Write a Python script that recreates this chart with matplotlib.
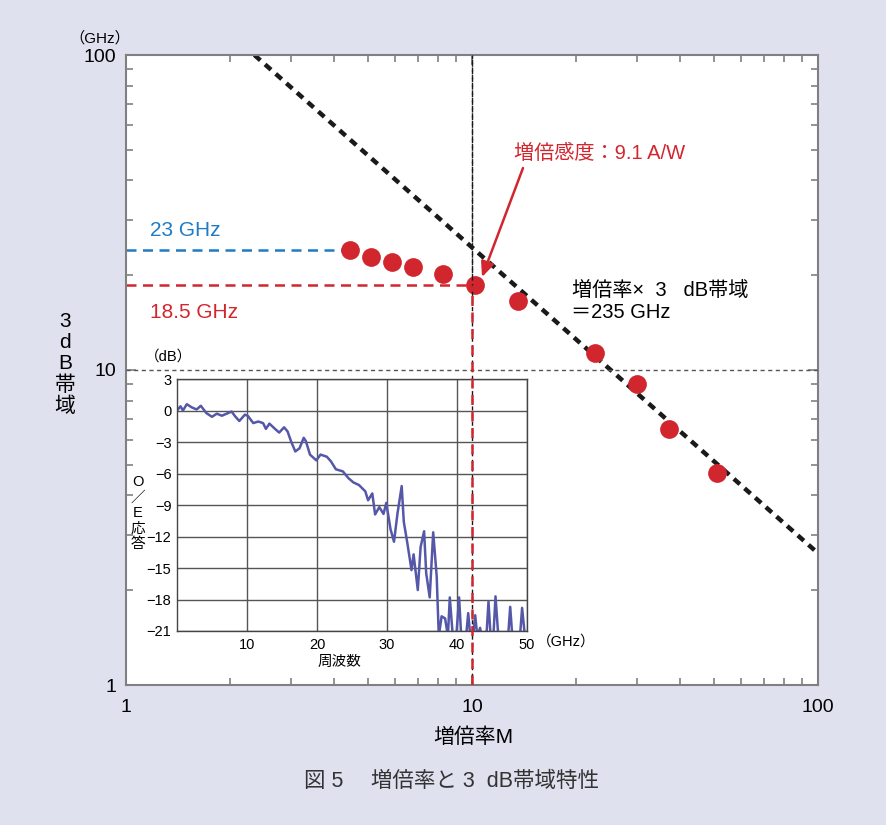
import numpy as np
import matplotlib.pyplot as plt
from matplotlib.ticker import FixedLocator, NullFormatter

plt.rcParams['font.family'] = ['Liberation Sans', 'Noto Sans CJK JP', 'DejaVu Sans']

W, H = 887, 825
BG = '#dfe1ef'
RED = '#d2262f'
BLUE = '#1f7bc4'

# gain M vs. 3 dB bandwidth (GHz)
gain = [4.43, 5.10, 5.86, 6.74, 8.24, 10.2, 13.6, 22.6, 29.9, 37.2, 51.0]
bw = [24.0, 22.9, 22.0, 21.2, 20.2, 18.6, 16.5, 11.3, 9.06, 6.51, 4.71]
# gain-bandwidth product line (235 GHz), end points as drawn
gbp_m = [2.35, 100]
gbp_bw = [100, 2.62]

# inset: O/E response (dB) vs frequency (GHz)
freq = [0.0, 0.5, 0.85, 1.4, 2.1, 2.8, 3.4, 4.2, 5.0, 5.7, 6.4, 7.1, 7.8, 8.3, 8.9,
        9.7, 10.1, 10.9, 11.6, 12.3, 12.7, 13.2, 14.0, 14.6, 15.3, 15.8, 16.3, 16.9,
        17.5, 18.1, 18.4, 19.0, 19.9, 20.5, 21.4, 22.0, 22.7, 23.7, 24.5, 25.2, 26.0,
        26.9, 27.3, 27.9, 28.3, 28.9, 29.5, 29.9, 30.5, 31.0, 31.5, 32.1, 32.4, 32.9,
        33.5, 33.8, 34.4, 34.8, 35.3, 35.6, 36.1, 36.6, 37.1, 37.4, 37.8, 38.3, 38.7,
        38.97, 39.4, 39.9, 40.3, 40.6, 41.3, 41.6, 41.9, 42.3, 42.6, 42.9, 43.3, 43.5,
        44.2, 44.5, 44.8, 45.2, 45.5, 45.9, 47.3, 47.6, 47.9, 49.0, 49.3, 49.7]
resp = [0.0, 0.4, 0.0, 0.6, 0.3, 0.1, 0.45, -0.25, -0.6, -0.3, -0.5, -0.3, -0.1, -0.55,
        -1.0, -0.4, -0.5, -1.2, -1.05, -1.2, -1.75, -1.25, -1.75, -2.1, -1.6, -2.0,
        -2.95, -3.9, -3.6, -2.6, -2.9, -4.2, -4.75, -4.2, -4.4, -4.85, -5.6, -5.8,
        -6.45, -6.85, -7.1, -7.7, -8.55, -7.9, -9.9, -9.2, -9.85, -8.8, -11.3, -12.5,
        -9.8, -7.2, -10.6, -12.6, -15.2, -13.7, -17.1, -13.0, -11.5, -15.5, -17.8,
        -11.6, -15.8, -21.5, -19.6, -19.8, -21.5, -17.8, -21.5, -21.5, -17.8, -21.5,
        -21.5, -19.3, -21.5, -21.5, -19.5, -21.5, -20.7, -21.5, -21.5, -18.2, -21.5,
        -21.5, -17.7, -21.5, -21.5, -18.7, -21.5, -21.5, -18.8, -21.5]


def px(x, y):
    return x / W, 1 - y / H


fig = plt.figure(figsize=(W / 100, H / 100), dpi=100, facecolor=BG)

# main axes
pos = [126 / W, 1 - 685 / H, (818 - 126) / W, (685 - 55) / H]
ax = fig.add_axes(pos, zorder=1)
ax.set_xscale('log'); ax.set_yscale('log')
ax.set(xlim=(1, 100), ylim=(1, 100))
for a in (ax.xaxis, ax.yaxis):
    a.set_major_locator(FixedLocator([1, 10, 100]))
    a.set_minor_locator(FixedLocator([k * 10 ** d for d in (0, 1) for k in range(2, 10)]))
    a.set_minor_formatter(NullFormatter())
ax.set_xticklabels(['1', '10', '100']); ax.set_yticklabels(['1', '10', '100'])
ax.tick_params(which='both', direction='in', top=True, right=True, color='#808080',
               width=1.2, labelsize=14)
ax.tick_params(which='major', length=7)
ax.tick_params(which='minor', length=5)
ax.tick_params(axis='x', pad=10)
ax.tick_params(axis='y', pad=7)
for s in ax.spines.values():
    s.set_color('#808080'); s.set_linewidth(1.5)

ax.plot(gbp_m, gbp_bw, color='#1a1a1a', lw=3.2, dashes=(1.8, 1.4))
ax.plot([1, gain[0]], [bw[0], bw[0]], color=BLUE, lw=1.8, dashes=(4, 2.6))
ax.plot([1, 10], [bw[5], bw[5]], color=RED, lw=1.8, dashes=(4, 2.6))
ax.plot([10, 10], [bw[5], 100], color='#1a1a1a', lw=1.0, dashes=(3, 2.5))
ax.plot(gain, bw, 'o', color=RED, ms=13.5, mec='none', zorder=5)

ax.annotate('', xy=px(482, 277), xycoords='figure fraction',
            xytext=px(523, 168), textcoords='figure fraction',
            arrowprops=dict(arrowstyle='-|>,head_length=0.9,head_width=0.4',
                            color=RED, lw=1.8, shrinkA=0, shrinkB=0))

# inset axes
ins = fig.add_axes([177 / W, 1 - 631 / H, (527 - 177) / W, (631 - 379) / H], zorder=2)
ins.plot(freq, resp, color='#5558a8', lw=1.8, clip_on=True)
ins.set(xlim=(0, 50), ylim=(-21, 3))
ins.set_xticks([10, 20, 30, 40, 50])
ins.set_yticks(range(-21, 4, 3))
ins.grid(True, color='#555555', lw=1.0)
ins.set_axisbelow(True)
ins.tick_params(length=0, labelsize=10.5)
ins.tick_params(axis='x', pad=5)
ins.tick_params(axis='y', pad=4)
for s in ins.spines.values():
    s.set_color('#444444'); s.set_linewidth(1.0)

# overlay for guide lines crossing the inset
ov = fig.add_axes(pos, zorder=3, sharex=ax, sharey=ax)
ov.set_axis_off()
ov.patch.set_visible(False)
ov.axhline(10, color='#555555', lw=1.0, dashes=(3, 2.5))
ov.plot([10, 10], [1, 100], color='#1a1a1a', lw=1.0, dashes=(3, 2.5))
ov.plot([10, 10], [1, bw[5]], color=RED, lw=1.8, dashes=(4, 2.6))

# texts
fig.text(*px(100, 38), '（GHz）', fontsize=11, ha='center', va='center')
fig.text(*px(65, 364), '3\nd\nB\n帯\n域', fontsize=15, ha='center', va='center',
         linespacing=1.14)
fig.text(*px(473, 737), '増倍率M', fontsize=15, ha='center', va='center')
fig.text(*px(452, 781), '図 5　 増倍率と 3  dB帯域特性', fontsize=15.5, ha='center',
         va='center', color='#333333')
fig.text(*px(150, 231), '23 GHz', fontsize=15, color=BLUE, ha='left', va='center')
fig.text(*px(150, 312), '18.5 GHz', fontsize=15, color=RED, ha='left', va='center')
fig.text(*px(514, 153), '増倍感度：9.1 A/W', fontsize=14.5, color=RED, ha='left',
         va='center')
fig.text(*px(572, 291), '増倍率×  3   dB帯域', fontsize=14.5, ha='left', va='center')
fig.text(*px(571, 313), '＝235 GHz', fontsize=14.5, ha='left', va='center')
fig.text(*px(145, 357), '（dB）', fontsize=10.5, ha='left', va='center')
fig.text(*px(339, 662), '周波数', fontsize=10.5, ha='center', va='center')
fig.text(*px(537, 642), '（GHz）', fontsize=10.5, ha='left', va='center')
fig.text(*px(138, 513), 'O\n／\nE\n応\n答', fontsize=10.5, ha='center', va='center',
         linespacing=1.15)

fig.savefig('out.png', dpi=100, facecolor=BG)
